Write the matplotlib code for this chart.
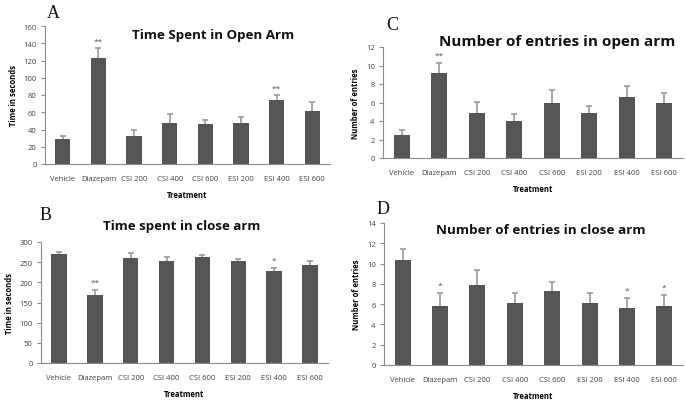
import numpy as np
import matplotlib
matplotlib.use("Agg")
import matplotlib.pyplot as plt

treatments = ["Vehicle", "Diazepam", "CSI 200", "CSI 400", "CSI 600",
              "ESI 200", "ESI 400", "ESI 600"]

# A - time spent in open arm (s)
open_time = [29, 123, 32, 47, 46, 48, 74, 62]
open_time_err = [4, 11, 7, 11, 5, 7, 6, 10]
open_time_sig = ["", "**", "", "", "", "", "**", ""]

# B - time spent in close arm (s)
close_time = [270, 168, 260, 253, 262, 252, 228, 242]
close_time_err = [4, 14, 12, 10, 7, 6, 7, 10]
close_time_sig = ["", "**", "", "", "", "", "*", ""]

# C - entries in open arm
open_entries = [2.5, 9.2, 4.9, 4.0, 6.0, 4.9, 6.6, 6.0]
open_entries_err = [0.5, 1.1, 1.2, 0.8, 1.3, 0.7, 1.2, 1.0]
open_entries_sig = ["", "**", "", "", "", "", "", ""]

# D - entries in close arm
close_entries = [10.4, 5.8, 7.9, 6.1, 7.3, 6.1, 5.6, 5.8]
close_entries_err = [1.0, 1.3, 1.5, 1.0, 0.9, 1.0, 1.0, 1.1]
close_entries_sig = ["", "*", "", "", "", "", "*", "*"]

BAR = "#555555"
W, H = 686, 402


def px_axes(fig, left, right, top, bottom):
    return fig.add_axes([left / W, 1 - bottom / H, (right - left) / W, (bottom - top) / H])


def bar_panel(ax, vals, errs, sig, ymax, ystep, ylabel, star_off):
    x = np.arange(len(treatments))
    ax.bar(x, vals, width=0.43, color=BAR, zorder=2)
    eb = ax.errorbar(x, vals, yerr=[np.zeros(len(errs)), errs], fmt="none",
                     ecolor="#9a9a9a", elinewidth=1.2, capsize=2.5, capthick=1.2, zorder=3)
    eb[1][0].set_visible(False)
    eb[1][1].set_color("#222222")
    for xi, v, e, s in zip(x, vals, errs, sig):
        if s:
            ax.text(xi, v + e + star_off, s, ha="center", va="bottom",
                    fontsize=6, color="#555555")
    ax.set_xlim(-0.5, 7.5)
    ax.set_ylim(0, ymax)
    ax.set_yticks(np.arange(0, ymax + ystep / 2, ystep))
    ax.set_xticks(x)
    ax.set_xticklabels(treatments)
    for sp in ["top", "right"]:
        ax.spines[sp].set_visible(False)
    for sp in ["left", "bottom"]:
        ax.spines[sp].set_color("#8c8c8c")
        ax.spines[sp].set_linewidth(0.8)
    ax.tick_params(axis="x", length=0, pad=8, labelsize=5.5, labelcolor="#404040")
    ax.tick_params(axis="y", length=3, width=0.8, color="#8c8c8c", pad=3,
                   labelsize=5.5, labelcolor="#404040")
    ax.set_ylabel(ylabel, fontsize=5.5, fontweight="bold", labelpad=4)
    ax.set_xlabel("Treatment", fontsize=5.5, fontweight="bold", labelpad=6)


plt.rcParams["font.family"] = ["Open Sans", "DejaVu Sans"]
fig = plt.figure(figsize=(W / 100, H / 100), dpi=100)

axA = px_axes(fig, 45, 330, 27, 165)
bar_panel(axA, open_time, open_time_err, open_time_sig, 160, 20, "Time in seconds", 4)
axC = px_axes(fig, 383, 683, 48, 159)
bar_panel(axC, open_entries, open_entries_err, open_entries_sig, 12, 2, "Number of entries", 0.4)
axB = px_axes(fig, 41, 328, 243, 364)
bar_panel(axB, close_time, close_time_err, close_time_sig, 300, 50, "Time in seconds", 10)
axD = px_axes(fig, 384, 683, 224, 366)
bar_panel(axD, close_entries, close_entries_err, close_entries_sig, 14, 2, "Number of entries", 0.4)

titles = [("Time Spent in Open Arm", 213, 36, 9.6), ("Number of entries in open arm", 557, 42, 11),
          ("Time spent in close arm", 182, 227, 9.5), ("Number of entries in close arm", 541, 231, 9.7)]
for t, tx, ty, fs in titles:
    fig.text(tx / W, 1 - ty / H, t, ha="center", va="center", fontsize=fs,
             fontweight="bold", color="#111111")

letters = [("A", 53, 13), ("C", 392, 26), ("B", 46, 216), ("D", 383, 210)]
for t, lx, ly in letters:
    fig.text(lx / W, 1 - ly / H, t, ha="center", va="center", fontsize=13,
             family="Liberation Serif", color="#111111")

fig.savefig("out.png", dpi=100)
